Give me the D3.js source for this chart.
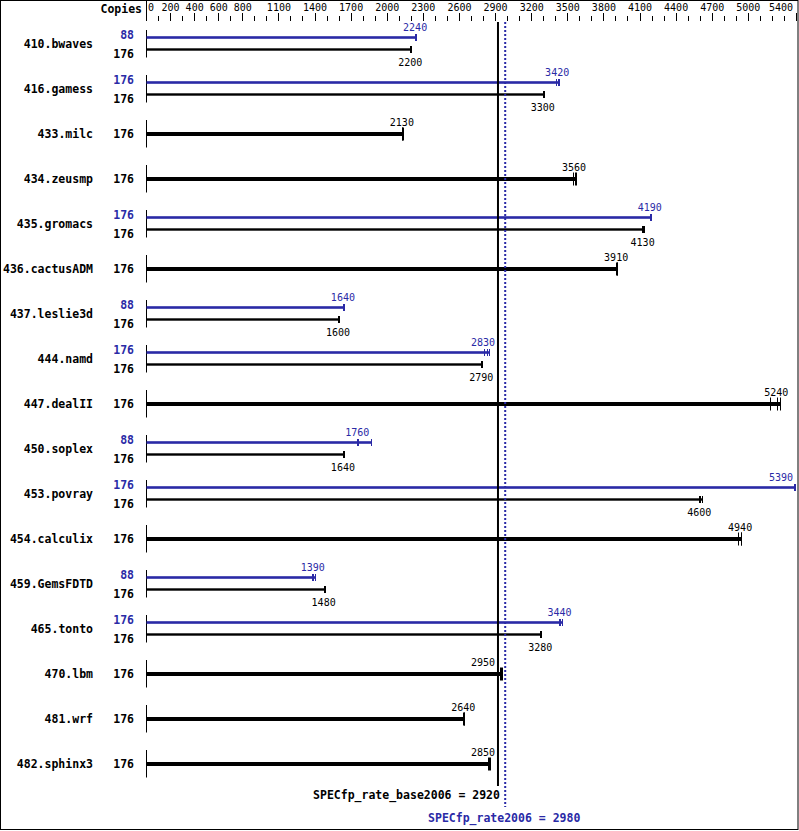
<!DOCTYPE html>
<html><head><meta charset="utf-8">
<script src="https://cdn.jsdelivr.net/npm/d3@7"></script>
<style>body{margin:0;background:#fff}svg{display:block}</style>
</head><body><svg id="c" width="799" height="831"></svg>
<script>
const benchmarks = ["410.bwaves","416.gamess","433.milc","434.zeusmp","435.gromacs","436.cactusADM","437.leslie3d","444.namd","447.dealII","450.soplex","453.povray","454.calculix","459.GemsFDTD","465.tonto","470.lbm","481.wrf","482.sphinx3"];
const baseCopies = [176,176,176,176,176,176,176,176,176,176,176,176,176,176,176,176,176];
const peakCopies = [88,176,null,null,176,null,88,176,null,88,176,null,88,176,null,null,null];
const baseRatios = [2200,3300,2130,3560,4130,3910,1600,2790,5240,1640,4600,4940,1480,3280,2950,2640,2850];
const peakRatios = [2240,3420,null,null,4190,null,1640,2830,null,1760,5390,null,1390,3440,null,null,null];
const baseRuns = [
  [2195,2200,2205],[3295,3300,3305],[2125,2130,2135],[3550,3560,3575],[4120,4130,4140],
  [3905,3910,3915],[1595,1600,1605],[2785,2790,2795],[5185,5240,5270],[1635,1640,1645],
  [4595,4600,4615],[4915,4940,4945],[1475,1480,1485],[3275,3280,3285],[2945,2950,2960],
  [2635,2640,2645],[2845,2850,2855]];
const peakRuns = [
  [2235,2240,2245],[3410,3420,3430],null,null,[4185,4190,4195],null,[1635,1640,1645],
  [2810,2830,2850],null,[1755,1760,1870],[5380,5390,5395],null,[1380,1390,1400],
  [3430,3440,3460],null,null,null];
const tickLabels = [0,200,400,600,800,1100,1400,1700,2000,2300,2600,2900,3200,3500,3800,4100,4400,4700,5000,5400];
const minorTicks = d3.range(0, 5401, 100);
const baseMean = 2920, peakMean = 2980;
const baseMeanLabel = "SPECfp_rate_base2006 = 2920";
const peakMeanLabel = "SPECfp_rate2006 = 2980";

const BLUE = "#2a2aa6";
const MONO = "'DejaVu Sans Mono', monospace";
const svg = d3.select("#c");
const x = d3.scaleLinear().domain([0, 5400]).range([146.5, 796.5]);
const y = d3.scalePoint().domain(benchmarks).range([43.5, 43.5 + 45 * 16]);
const px = v => Math.floor(x(v)) + 0.5;

// frame
svg.append("rect").attr("x",0.5).attr("y",0.5).attr("width",797.5).attr("height",829)
  .attr("fill","none").attr("stroke","#000").attr("stroke-width",1);

// header axis
svg.append("line").attr("x1",146.5).attr("x2",146.5).attr("y1",0).attr("y2",21).attr("stroke","#000");
svg.append("text").attr("x",142).attr("y",13).attr("text-anchor","end")
  .attr("font-family",MONO).attr("font-weight","bold").attr("font-size","11.5px").text("Copies");
svg.selectAll("line.tk").data(minorTicks).join("line").attr("class","tk")
  .attr("x1",d=>px(d)).attr("x2",d=>px(d))
  .attr("y1",d=>tickLabels.includes(d)?13:16).attr("y2",21)
  .attr("stroke","#000").attr("stroke-width",1);
svg.selectAll("text.tl").data(tickLabels).join("text").attr("class","tl")
  .attr("font-family",MONO).attr("font-size","10px").attr("y",10.5)
  .text(d=>d)
  .each(function(d){
    const w = this.getComputedTextLength();
    let s = x(d) - w/2;
    if (s < 148) s = 148;
    if (s + w > 793) s = 793 - w;
    d3.select(this).attr("x", s);
  });

function valueLabel(v, cx, baseline, color) {
  const t = svg.append("text").attr("font-family",MONO).attr("font-size","10px")
    .attr("fill",color).attr("y",baseline).text(v);
  const w = t.node().getComputedTextLength();
  let s = cx - 1 - w/2;
  if (s + w > 793) s = 793 - w;
  const lx = x(baseMean);
  if (s < lx + 2 && s + w > lx - 2) s = lx - 3 - w;
  t.attr("x", s);
}

function drawBar(val, runs, cy, h, color, tickHalf) {
  const mx = d3.max(runs);
  svg.append("rect").attr("x",x(0)).attr("y",cy - h/2).attr("width",x(mx)-x(0)).attr("height",h).attr("fill",color);
  runs.forEach(r => {
    svg.append("line").attr("x1",px(r)).attr("x2",px(r)).attr("y1",cy - tickHalf).attr("y2",cy + tickHalf)
      .attr("stroke",color).attr("stroke-width",1);
  });
}

benchmarks.forEach((b, i) => {
  const c = y(b);
  svg.append("text").attr("x",93).attr("y",c+4).attr("text-anchor","end")
    .attr("font-family",MONO).attr("font-weight","bold").attr("font-size","11.5px").text(b);
  svg.append("line").attr("x1",146.5).attr("x2",146.5).attr("y1",c-13.5).attr("y2",c+14).attr("stroke","#000");
  if (peakRatios[i] != null) {
    const by = c - 6, ky = c + 6;
    svg.append("text").attr("x",134).attr("y",c-4.5).attr("text-anchor","end").attr("fill",BLUE)
      .attr("font-family",MONO).attr("font-weight","bold").attr("font-size","11.5px").text(peakCopies[i]);
    svg.append("text").attr("x",134).attr("y",c+14).attr("text-anchor","end")
      .attr("font-family",MONO).attr("font-weight","bold").attr("font-size","11.5px").text(baseCopies[i]);
    drawBar(peakRatios[i], peakRuns[i], by, 2.6, BLUE, 3.5);
    drawBar(baseRatios[i], baseRuns[i], ky, 2.4, "#000", 3.5);
    valueLabel(peakRatios[i], x(peakRatios[i]), by - 7, BLUE);
    valueLabel(baseRatios[i], x(baseRatios[i]), ky + 16, "#000");
  } else {
    svg.append("text").attr("x",134).attr("y",c+4).attr("text-anchor","end")
      .attr("font-family",MONO).attr("font-weight","bold").attr("font-size","11.5px").text(baseCopies[i]);
    drawBar(baseRatios[i], baseRuns[i], c + 0.5, 4, "#000", 6.5);
    valueLabel(baseRatios[i], x(baseRatios[i]), c - 7.5, "#000");
  }
});

// mean lines
svg.append("line").attr("x1",x(baseMean)).attr("x2",x(baseMean)).attr("y1",22).attr("y2",786)
  .attr("stroke","#000").attr("stroke-width",2);
svg.append("line").attr("x1",x(peakMean)).attr("x2",x(peakMean)).attr("y1",22).attr("y2",807)
  .attr("stroke",BLUE).attr("stroke-width",2).attr("stroke-dasharray","2,2");
svg.append("text").attr("x",x(baseMean)+2).attr("y",799).attr("text-anchor","end")
  .attr("font-family",MONO).attr("font-weight","bold").attr("font-size","11.5px").text(baseMeanLabel);
svg.append("text").attr("x",x(peakMean)-1).attr("y",822).attr("text-anchor","middle").attr("fill",BLUE)
  .attr("font-family",MONO).attr("font-weight","bold").attr("font-size","11.5px").text(peakMeanLabel);
</script></body></html>
